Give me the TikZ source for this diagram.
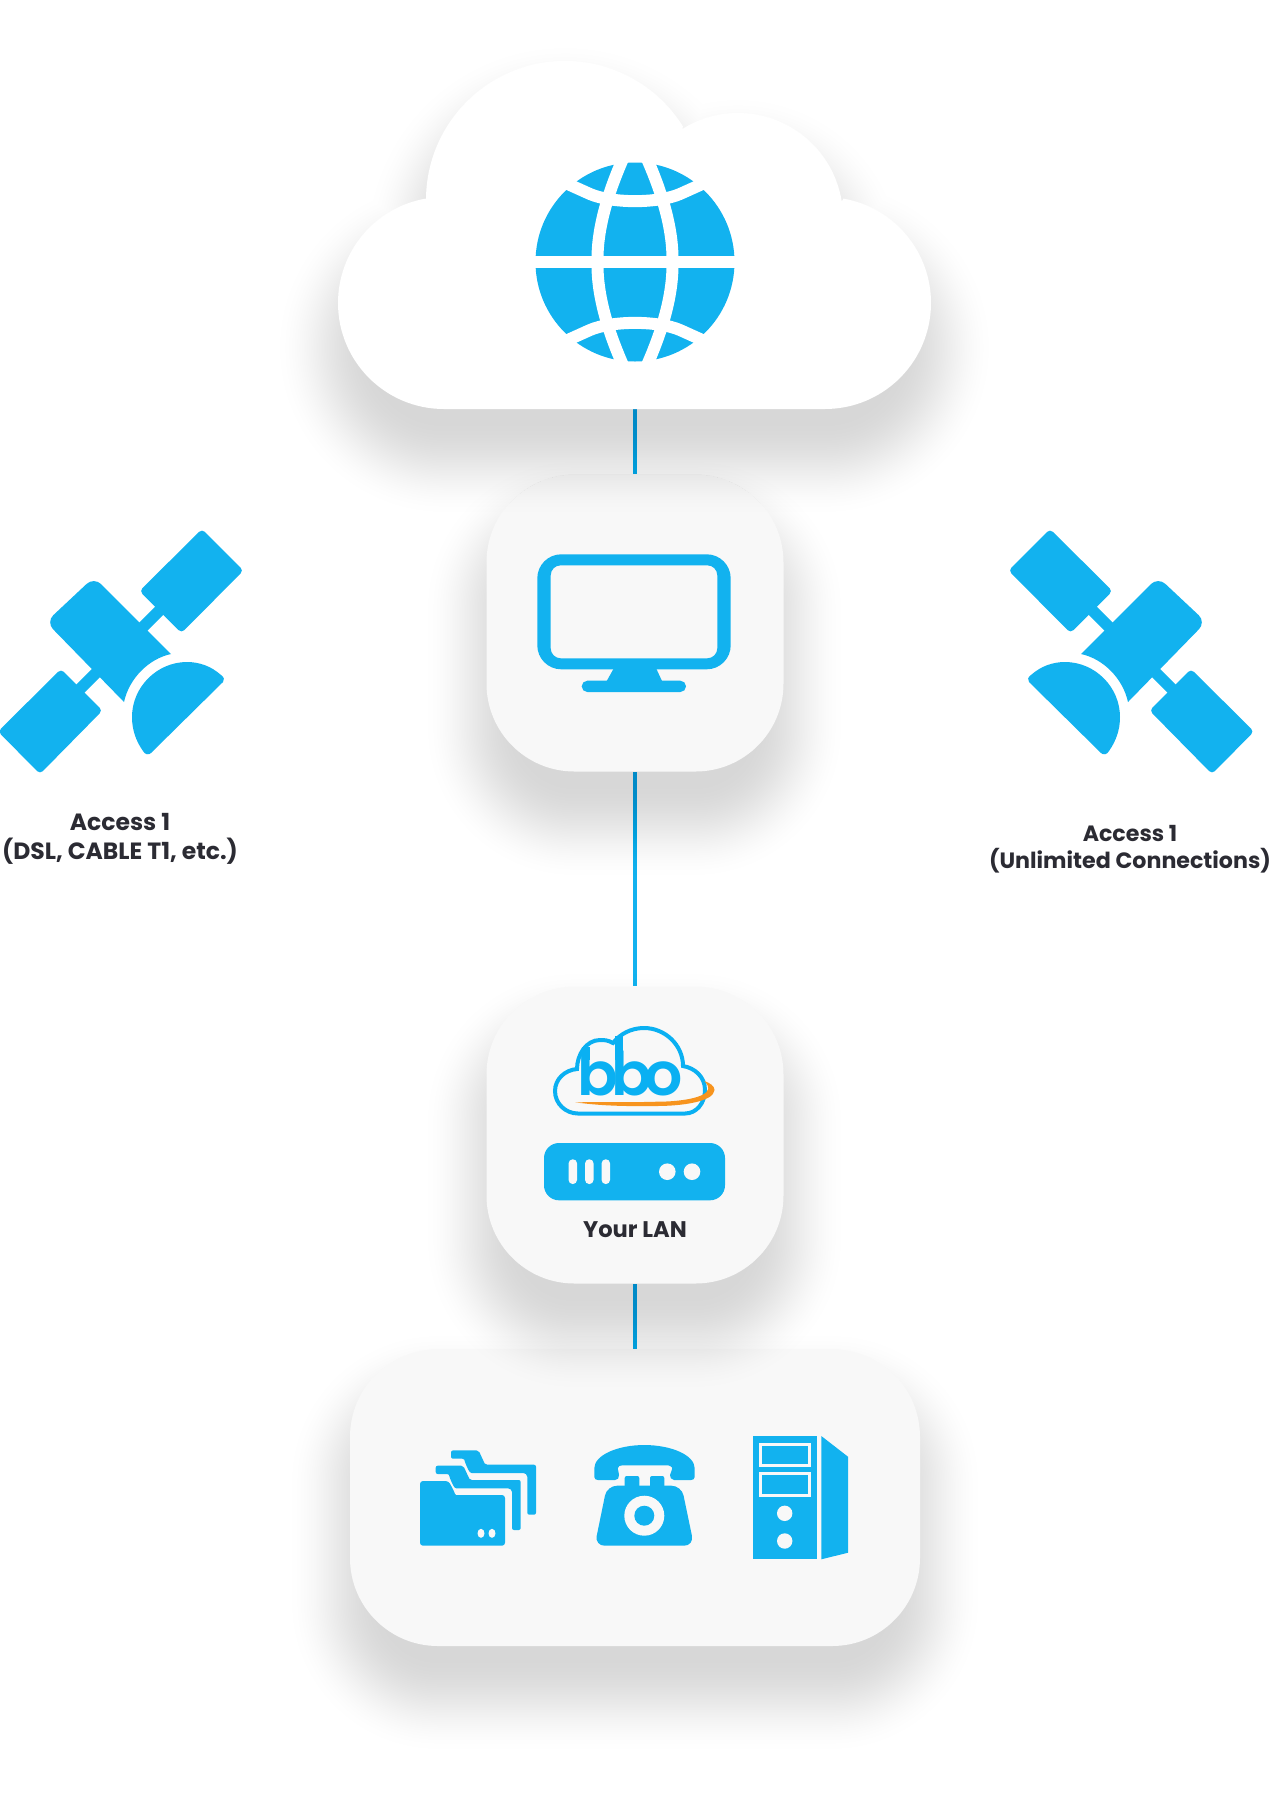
\documentclass[tikz,border=0pt]{standalone}
\usepackage{fontspec}
\usetikzlibrary{backgrounds}
\newfontfamily\labelfont{Poppins}
\newfontfamily\logofont{Poppins SemiBold}
\definecolor{iconBlue}{HTML}{12B2EF}
\definecolor{logoBlue}{HTML}{0AB0F2}
\definecolor{panelGrey}{HTML}{F8F8F8}
\definecolor{labelInk}{HTML}{2B2B33}
\definecolor{swoosh}{HTML}{F7941E}
\tikzstyle{icon}=[fill=iconBlue]
\tikzstyle{gap}=[fill=panelGrey]
\tikzstyle{link}=[color=iconBlue, line width=2pt]
\tikzstyle{panel}=[fill=panelGrey, rounded corners=44pt, inner sep=0pt,
  minimum height=148.5pt]
\tikzstyle{globeGap}=[color=white, line width=6pt]
\tikzstyle{caption}=[color=labelInk, align=center, inner sep=0pt,
  font=\labelfont\bfseries\fontsize{11.3}{14}\selectfont]

% a soft drop shadow out of stacked strokes
\newcommand{\softShadow}[1]{
  \foreach \i in {1,...,40} {
    \pgfmathsetmacro{\w}{acos(1-2*(\i-0.5)/40)/1.8}
    \begin{scope}[transparency group, opacity=0.0043]
      \path[fill=black, draw=black, line join=round, line width=\w pt] #1;
    \end{scope}
  }
}
\newcommand{\satelliteIcon}{
  \draw[color=iconBlue, line width=5.75pt] (140,630) -- (162,608);
  \draw[color=iconBlue, line width=5.75pt] (99,670) -- (77,692);
  \fill[icon, rounded corners=2pt] (202,529) -- (243.5,570.5) -- (181.5,633) -- (139.5,591) -- cycle;
  \fill[icon, rounded corners=2pt] (61,669) -- (102.5,710.5) -- (40,774) -- (-2,731.5) -- cycle;
  \fill[icon] (171,654) [rounded corners=5pt] -- (94,577) -- (46,622) [sharp corners] -- (124,702)
    .. controls (129,679) and (148,659) .. (171,654) -- cycle;
  \fill[icon] (221,675) .. controls (211,666) and (199,662) .. (187,662)
    .. controls (157,662) and (132,687) .. (132,717)
    .. controls (132,730) and (136,741) .. (143,751)
    .. controls (145,755) and (149,755) .. (151,753) -- (223,682)
    .. controls (225,680) and (224,677) .. (221,675) -- cycle;
}

\begin{document}
\begin{tikzpicture}[x=0.5pt, y=-0.5pt]
  \useasboundingbox (0,0) rectangle (1272,1801);

  % boxes, lowest first so that each shadow falls on the box below
  \softShadow{[rounded corners=26.5pt] (385,1429) rectangle (885,1656)}
  \node[panel, minimum width=285pt] (deviceBox) at (635,1497.5) {};
  \softShadow{[rounded corners=26.5pt] (521,1067) rectangle (748,1294)}
  \node[panel, minimum width=148.5pt] (lanBox) at (635,1135) {};
  \softShadow{[rounded corners=26.5pt] (521,555) rectangle (748,782)}
  \node[panel, minimum width=148.5pt] (screenBox) at (635,623) {};

  % the cloud
  \softShadow{(444,419) arc (90:260:71) -- (461,245) arc (180:328:104) -- (700.9,203.6) arc (238:351:70) -- (837.3,278.1) arc (280:450:71) -- cycle}
  \path[fill=white] (444,409) arc (90:260:106) -- (426,200) arc (180:328:139) -- (682.4,129) arc (238:351:105) -- (843.4,198.6) arc (280:450:106) -- cycle;
  \coordinate (cloudBase) at (635,409);

  \begin{scope}[on background layer]
    \draw[link] (cloudBase) -- (screenBox.north);
    \draw[link] (screenBox.south) -- (lanBox.north);
    \draw[link] (lanBox.south) -- (deviceBox.north);
  \end{scope}

  % globe
  \fill[icon] (635,262) circle (99.5);
  \draw[globeGap] (530,262) -- (740,262);
  \draw[globeGap] (626,152) .. controls (604,200) and (597,235) .. (597.5,262)
    .. controls (597,289) and (604,324) .. (626,372);
  \draw[globeGap] (644,152) .. controls (666,200) and (673,235) .. (672.5,262)
    .. controls (673,289) and (666,324) .. (644,372);
  \draw[globeGap] (550,176) -- (590,194) .. controls (612,203.5) and (658,203.5) .. (680,194) -- (720,176);
  \draw[globeGap] (550,348) -- (590,330) .. controls (612,320.5) and (658,320.5) .. (680,330) -- (720,348);

  % monitor
  \path[icon, even odd rule] [rounded corners=12pt] (537.3,554.3) rectangle (730.7,669.3)
    [rounded corners=5pt] (550.7,565.3) rectangle (717.3,658.3);
  \fill[icon] (614,668) -- (656,668) -- (662,681) -- (606.7,681) -- cycle;
  \fill[icon, rounded corners=2.8pt] (581.7,680.7) rectangle (686,692);

  % satellites
  \satelliteIcon
  \begin{scope}[xshift=626pt, xscale=-1]
    \satelliteIcon
  \end{scope}
  \node[caption, scale=1.04] (leftCaption) at (120,839) {Access 1\\(DSL, CABLE T1, etc.)};
  \node[caption, scale=0.98] (rightCaption) at (1130,849) {Access 1\\(Unlimited Connections)};

  % logo
  \draw[color=logoBlue, line width=2pt] (578,1113.5) -- (685,1113.5)
    .. controls (696.5,1113.5) and (705,1103) .. (705,1090)
    .. controls (705,1077) and (695,1068) .. (683,1066)
    .. controls (683,1045) and (665,1028) .. (644,1028)
    .. controls (631,1028) and (620,1034) .. (613,1043)
    .. controls (608,1040) and (604,1040) .. (600,1040)
    .. controls (586,1040) and (577,1055) .. (577,1069)
    .. controls (565,1070) and (555,1079) .. (555,1091)
    .. controls (555,1104) and (566,1113.5) .. (578,1113.5) -- cycle;
  \node[color=logoBlue, inner sep=0pt, anchor=base, font=\logofont\fontsize{30}{30}\selectfont]
    (logoText) at (630.5,1095) {b\kern-3.75pt b\kern-3.4pt o};
  \fill[color=logoBlue] (581.85,1060) rectangle (590.2,1047);
  \fill[color=logoBlue] (615,1060) rectangle (623.4,1036);
  \fill[swoosh] (575,1102.3) .. controls (610,1107) and (640,1106) .. (656.7,1106)
    .. controls (680,1106) and (714,1102) .. (714.5,1090)
    .. controls (714.5,1086) and (710,1083) .. (704.3,1081)
    .. controls (708,1085) and (708.5,1087) .. (708.3,1089)
    .. controls (706,1098) and (680,1101.7) .. (656.7,1101.7)
    .. controls (630,1102.5) and (600,1102) .. (575,1102.3) -- cycle;

  % router
  \fill[icon, rounded corners=7.5pt] (544,1143) rectangle (725,1200.3);
  \foreach \slotX in {572.8,589.3,605.8} {
    \fill[gap, rounded corners=2pt] (\slotX-4.2,1159.3) rectangle (\slotX+4.2,1184);
  }
  \fill[gap] (667.3,1171.7) circle (8.3);
  \fill[gap] (692,1171.7) circle (8.3);
  \node[caption] (lanCaption) at (635,1230) {Your LAN};

  % folders
  \foreach \s in {15.3,0} {
    \begin{scope}[shift={(\s,-\s)}]
      \fill[icon, rounded corners=1pt] (435.7,1465.7) -- (463.3,1465.7) -- (468.5,1477)
        .. controls (470,1480) and (471,1480) .. (474,1480) -- (520.7,1480) -- (520.7,1530) -- (512,1530) -- (512,1494)
        .. controls (512,1490) and (510,1488.3) .. (506,1488.3) -- (458.3,1488.3)
        .. controls (455,1488.3) and (454,1487) .. (452,1483) -- (449.5,1477)
        .. controls (449,1475) and (448,1474) .. (445,1474) -- (435.7,1474) -- cycle;
    \end{scope}
  }
  \fill[icon, rounded corners=1.5pt] (420,1481) -- (448.5,1481) -- (454,1491)
    .. controls (455,1494) and (456,1495) .. (459,1495) -- (505,1495) -- (505,1545.7) -- (420,1545.7) -- cycle;
  \fill[gap] (481,1533.3) ellipse (3.5 and 4.5);
  \fill[gap] (492,1533.3) ellipse (3.5 and 4.5);

  % telephone
  \fill[icon] (594.3,1468.3) .. controls (594.3,1455) and (618,1445) .. (644.3,1445)
    .. controls (671,1445) and (694.7,1455) .. (694.7,1468.3) -- (694.7,1477)
    .. controls (694.7,1479) and (693,1480) .. (691,1480) -- (674,1480)
    .. controls (671,1480) and (670,1477) .. (670,1475)
    .. controls (671,1472) and (673,1468) .. (671.7,1467)
    .. controls (670,1465.3) and (668,1465.3) .. (666.7,1465.3) -- (622.7,1465.3)
    .. controls (620,1465.3) and (618,1466) .. (617.7,1468.3)
    .. controls (618,1470) and (619,1473) .. (619,1475)
    .. controls (619,1478) and (618,1480) .. (615,1480) -- (598,1480)
    .. controls (596,1480) and (594.3,1479) .. (594.3,1477) -- cycle;
  \fill[icon, rounded corners=1pt] (624.7,1490) -- (624.7,1476) -- (639.3,1476) -- (639.3,1490) -- cycle;
  \fill[icon, rounded corners=1pt] (650,1490) -- (650,1476) -- (664.3,1476) -- (664.3,1490) -- cycle;
  \fill[icon, rounded corners=5pt] (607,1485.7) -- (681.5,1485.7) -- (694,1545.7) -- (594.7,1545.7) -- cycle;
  \fill[gap] (644.3,1515.7) circle (20);
  \fill[icon] (644.3,1515.7) circle (10);

  % tower
  \fill[icon] (752.7,1436) rectangle (816.7,1559.3);
  \draw[color=panelGrey, line width=1.5pt] (760,1444) rectangle (809.5,1465.5);
  \draw[color=panelGrey, line width=1.5pt] (760,1473.5) rectangle (809.5,1495);
  \fill[gap] (784.7,1513.3) circle (7.7);
  \fill[gap] (784.7,1541) circle (7.7);
  \fill[icon] (821.3,1436) -- (848,1456.7) -- (848,1552.7) -- (821.3,1559.3) -- cycle;
\end{tikzpicture}
\end{document}
